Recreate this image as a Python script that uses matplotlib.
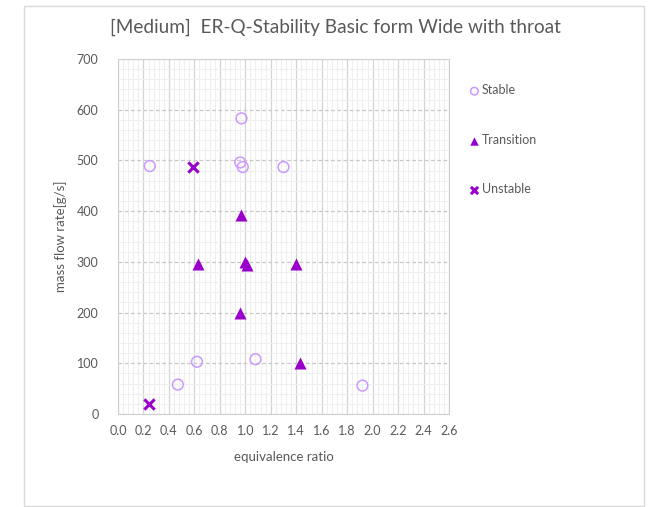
import matplotlib.pyplot as plt
import matplotlib.patches as mpatches
from matplotlib.ticker import MultipleLocator
import numpy as np

plt.rcParams['font.family'] = ['Lato', 'DejaVu Sans']

# equivalence ratio / mass flow rate [g/s]
stable_er = [0.25, 0.97, 0.96, 0.98, 1.30, 0.62, 0.47, 1.08, 1.92]
stable_q = [489, 583, 496, 487, 487, 103, 58, 108, 56]

trans_er = [0.97, 0.63, 1.00, 1.01, 0.96, 1.40, 1.43]
trans_q = [392, 295, 299, 293, 199, 295, 101]

unstable_er = [0.59, 0.24]
unstable_q = [488, 20]

fig = plt.figure(figsize=(6.49, 5.07), dpi=100)
ax = fig.add_axes([118 / 649, 1 - 414 / 507, 331 / 649, 355 / 507])

# outer chart frame
fig.patches.append(mpatches.Rectangle((24 / 649, 1 - 506 / 507), 620 / 649, 500 / 507,
                                      transform=fig.transFigure, fill=False,
                                      edgecolor='#d9d9d9', linewidth=1.0))

ax.set_xlim(0, 2.6)
ax.set_ylim(0, 700)
ax.xaxis.set_major_locator(MultipleLocator(0.2))
ax.xaxis.set_minor_locator(MultipleLocator(0.04))
ax.yaxis.set_major_locator(MultipleLocator(100))
ax.yaxis.set_minor_locator(MultipleLocator(20))
ax.set_xticklabels([f'{v:.1f}' for v in ax.get_xticks()])

ax.grid(which='minor', color='#efefef', linewidth=0.8)
ax.grid(which='major', axis='x', color='#d4d4d4', linewidth=0.9)
ax.grid(which='major', axis='y', color='#c8c8c8', linewidth=0.9, linestyle=(0, (3, 2)))
ax.set_axisbelow(True)

for s in ax.spines.values():
    s.set_color('#d0d0d0')
ax.tick_params(which='both', length=0, colors='#595959', labelsize=9)
ax.tick_params(axis='x', pad=8)
ax.tick_params(axis='y', pad=14)

ax.scatter(stable_er, stable_q, s=60, marker='o', facecolors='none',
           edgecolors='#cc99ff', linewidths=1.1, label='Stable', zorder=3)
ax.scatter(trans_er, trans_q, s=75, marker='^', color='#9900cc',
           linewidths=0, label='Transition', zorder=3)
ax.scatter(unstable_er, unstable_q, s=55, marker='x', color='#9900cc',
           linewidths=2.2, label='Unstable', zorder=3)

ax.set_xlabel('equivalence ratio', color='#595959', fontsize=9.5, labelpad=10)
ax.set_ylabel('mass flow rate[g/s]', color='#595959', fontsize=9.5, labelpad=7)

fig.suptitle('[Medium]  ER-Q-Stability Basic form Wide with throat',
             x=335 / 649, y=1 - 27 / 507, va='center', fontsize=13.7, color='#595959')

leg = ax.legend(loc='upper left', bbox_to_anchor=(1.02, 0.96), frameon=False,
                labelspacing=3.0, handletextpad=0.0, handlelength=1.2,
                markerscale=0.7, fontsize=9)
for t in leg.get_texts():
    t.set_color('#595959')

plt.savefig('out.png', dpi=100)
plt.close()
